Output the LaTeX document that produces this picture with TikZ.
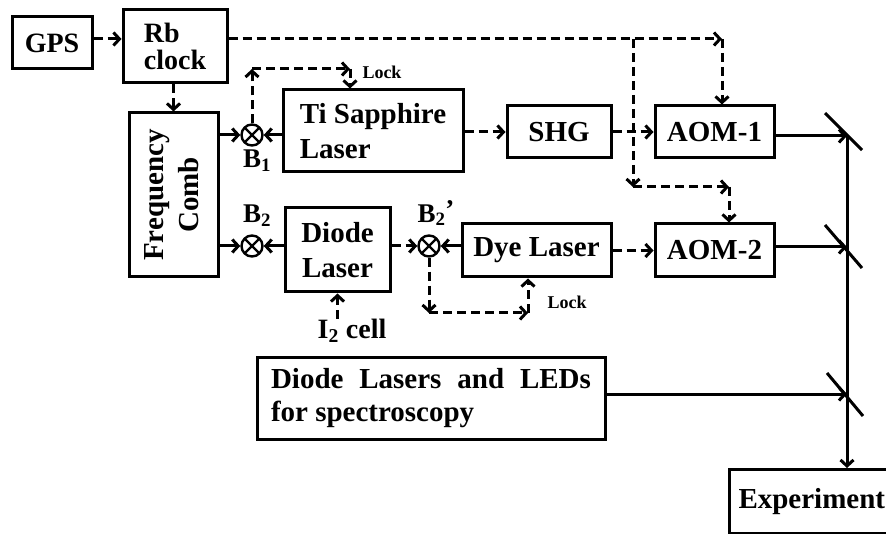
\documentclass[tikz,border=0pt]{standalone}
\usepackage{fontspec}
\setmainfont{Liberation Serif}
\usetikzlibrary{arrows.meta}

\begin{document}
\begin{tikzpicture}[
    x=1pt,
    y=-1pt,
    blk/.style={draw,line width=3pt,inner sep=0pt,align=center,
        font=\fontsize{29}{35}\selectfont\bfseries},
    mix/.style={draw,circle,line width=2.4pt,minimum size=21pt,inner sep=0pt,
        path picture={\draw[line width=2.2pt]
            (path picture bounding box.south west)--(path picture bounding box.north east)
            (path picture bounding box.north west)--(path picture bounding box.south east);}},
    lbl/.style={inner sep=0pt,font=\fontsize{27}{28}\selectfont\bfseries},
    small/.style={inner sep=0pt,font=\fontsize{18}{20}\selectfont\bfseries},
    sig/.style={line width=3pt,dash pattern=on 9pt off 5pt,
        -{Straight Barb[length=6pt,width=13pt]}},
    beam/.style={line width=3pt,-{Straight Barb[length=6pt,width=13pt]}},
    mirror/.style={line width=3pt}
]

\useasboundingbox (0,0) rectangle (886,534);

% -------------------------------------------------
% Blocks
% -------------------------------------------------

\node[blk,minimum width=80pt,minimum height=52pt,font=\fontsize{28}{30}\selectfont\bfseries]
    (gps) at (52,43) {GPS};
\node[blk,minimum width=104pt,minimum height=73pt,align=left,
    font=\fontsize{28}{27}\selectfont\bfseries] (rb) at (175,46.5) {Rb\\clock};
\node[blk,minimum width=89pt,minimum height=164pt] (comb) at (173.5,195)
    {\rotatebox{90}{\begin{tabular}{@{}c@{}}Frequency\\Comb\end{tabular}}};
\node[blk,minimum width=180pt,minimum height=82pt,align=left] (ti) at (373,131) {Ti Sapphire\\Laser};
\node[blk,minimum width=104pt,minimum height=52pt] (shg) at (559,132) {SHG};
\node[blk,minimum width=119pt,minimum height=52pt] (aom1) at (714.5,132) {AOM-1};
\node[blk,minimum width=105pt,minimum height=84pt] (diode) at (337.5,250) {Diode\\Laser};
\node[blk,minimum width=149pt,minimum height=53pt] (dye) at (536.5,250.5) {Dye Laser};
\node[blk,minimum width=119pt,minimum height=53pt] (aom2) at (714.5,250.5) {AOM-2};
\node[blk,minimum width=348pt,minimum height=81pt,text width=320pt,align=justify,
    font=\fontsize{29}{33}\selectfont\bfseries] (leds) at (431,398.5)
    {Diode Lasers and LEDs\linebreak for spectroscopy};
\node[blk,anchor=north west,minimum height=64pt,text width=152pt,inner xsep=9pt,
    align=left] (exp) at (728,468) {Experiment};

% -------------------------------------------------
% Beat detectors
% -------------------------------------------------

\node[mix] (b1)  at (252,135) {};
\node[mix] (b2)  at (252,246) {};
\node[mix] (b2p) at (429,246) {};

\node[lbl] (b1lbl)  at (257,161) {B\textsubscript{1}};
\node[lbl] (b2lbl)  at (257,216) {B\textsubscript{2}};
\node[lbl] (b2plbl) at (436,213) {B\textsubscript{2}\raisebox{4pt}{’}};
\node[lbl,font=\fontsize{28}{30}\selectfont\bfseries] (icell) at (352,331) {I\textsubscript{2} cell};
\node[small] (lock1) at (382,72)  {Lock};
\node[small] (lock2) at (567,302) {Lock};

% -------------------------------------------------
% Bends
% -------------------------------------------------

\coordinate (t1) at (722,39);
\coordinate (t2) at (633,39);
\coordinate (t3) at (633,187);
\coordinate (t4) at (729,187);
\coordinate (l1) at (252,69);
\coordinate (l2) at (350,69);
\coordinate (l3) at (429,313);
\coordinate (l4) at (528,313);
\coordinate (m1) at (847,136);
\coordinate (m2) at (847,247);
\coordinate (m3) at (847,394);

% -------------------------------------------------
% Electronic signals (dashed)
% -------------------------------------------------

\draw[sig] ([yshift=4pt]gps.east) -- ([yshift=4pt]gps.east -| rb.west);
\draw[sig] (t1 -| rb.east) -- (t1);
\draw[sig] (t1) -- (t1 |- aom1.north);
\draw[sig] (t2) -- (t3);
\draw[sig] (t3) -- (t4);
\draw[sig] (t4) -- (t4 |- aom2.north);
\draw[sig] (rb.south -| comb.north) -- (comb.north);

% lock of Ti Sapphire
\draw[sig] (b1.north) -- (l1);
\draw[sig] (l1) -- (l2);
\draw[sig] (l2) -- (l2 |- ti.north);

% lock of dye laser
\draw[sig] (b2p.south) -- (l3);
\draw[sig] (l3) -- (l4);
\draw[sig] (l4) -- (l4 |- dye.south);

\draw[sig] (icell.north -| diode.south) -- (diode.south);

% -------------------------------------------------
% Light
% -------------------------------------------------

\draw[beam] (b1 -| comb.east) -- (b1.west);
\draw[beam] (b1 -| ti.west) -- (b1.east);
\draw[beam] (b2 -| comb.east) -- (b2.west);
\draw[beam] (b2 -| diode.west) -- (b2.east);
\draw[sig]  (b2p -| diode.east) -- (b2p.west);
\draw[beam] (b2p -| dye.west) -- (b2p.east);

\draw[sig] (ti.east |- shg.west) -- (shg.west);
\draw[sig] (shg.east) -- (aom1.west);
\draw[sig] (dye.east) -- (aom2.west);

\draw[beam] (m1 -| aom1.east) -- (m1);
\draw[beam] (m2 -| aom2.east) -- (m2);
\draw[beam] (m3 -| leds.east) -- (m3);
\draw[beam] (m1) -- (m1 |- exp.north);

% mirrors
\draw[mirror] ([shift={(-22,-23)}]m1) -- ([shift={(15,14)}]m1);
\draw[mirror] ([shift={(-22,-22)}]m2) -- ([shift={(15,21)}]m2);
\draw[mirror] ([shift={(-20,-21)}]m3) -- ([shift={(16,22)}]m3);

\end{tikzpicture}
\end{document}
